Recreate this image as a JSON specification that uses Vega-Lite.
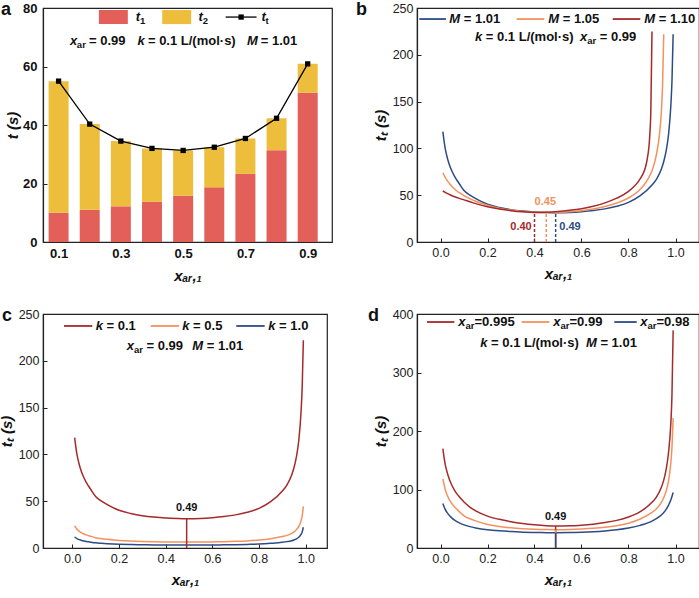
{
  "$schema": "https://vega.github.io/schema/vega-lite/v6.json",
  "padding": {"top": 0, "left": -2, "right": 0, "bottom": 0},
  "config": {
    "font": "Liberation Sans",
    "view": {"stroke": "#222", "strokeWidth": 1.2},
    "axis": {"domainColor": "#222", "domainWidth": 1.2, "tickColor": "#222", "tickWidth": 1, "labelColor": "#222", "labelFont": "Liberation Sans", "labelFontSize": 12.5, "titleFont": "Liberation Sans", "titleFontSize": 15, "titleFontWeight": "bold", "titleColor": "#111", "grid": false, "labelFlush": false, "labelOverlap": false},
    "title": {"anchor": "start", "frame": "group", "baseline": "top", "fontSize": 18, "fontWeight": "bold", "font": "Liberation Sans", "offset": -17, "color": "#111"},
    "text": {"font": "Liberation Sans"}
  },
  "columns": 2,
  "spacing": {"row": 22, "column": 22},
  "resolve": {"scale": {"color": "independent"}},
  "concat": [
    {
      "width": 289, "height": 234,
      "title": {"text": "a", "dx": -42},
      "layer": [
        {
          "data": {"values": [
            {"x": 0.1, "part": "t1", "t": 10.0}, {"x": 0.1, "part": "t2", "t": 45.0},
            {"x": 0.2, "part": "t1", "t": 11.0}, {"x": 0.2, "part": "t2", "t": 29.3},
            {"x": 0.3, "part": "t1", "t": 12.2}, {"x": 0.3, "part": "t2", "t": 22.3},
            {"x": 0.4, "part": "t1", "t": 13.8}, {"x": 0.4, "part": "t2", "t": 18.2},
            {"x": 0.5, "part": "t1", "t": 15.8}, {"x": 0.5, "part": "t2", "t": 15.5},
            {"x": 0.6, "part": "t1", "t": 18.7}, {"x": 0.6, "part": "t2", "t": 13.7},
            {"x": 0.7, "part": "t1", "t": 23.3}, {"x": 0.7, "part": "t2", "t": 12.1},
            {"x": 0.8, "part": "t1", "t": 31.4}, {"x": 0.8, "part": "t2", "t": 10.9},
            {"x": 0.9, "part": "t1", "t": 51.0}, {"x": 0.9, "part": "t2", "t": 9.9}
          ]},
          "mark": {"type": "bar", "size": 20, "orient": "vertical"},
          "encoding": {
            "x": {"field": "x", "type": "quantitative", "scale": {"domain": [0.066, 0.962], "nice": false, "zero": false},
                  "axis": {"values": [0.1, 0.2, 0.3, 0.4, 0.5, 0.6, 0.7, 0.8, 0.9], "format": ".1f", "ticks": false, "labelPadding": 5, "labelFontSize": 13, "labelFontWeight": "bold", "labelColor": "#111", "title": "xₐᵣ,₁", "titleFontStyle": "italic", "titlePadding": 8}},
            "y": {"field": "t", "type": "quantitative", "stack": "zero", "scale": {"domain": [0, 80], "nice": false},
                  "axis": {"values": [0, 10, 20, 30, 40, 50, 60, 70, 80], "labelExpr": "datum.value % 20 === 0 ? datum.label : ''", "tickSize": -4, "labelPadding": 10, "labelFontSize": 13, "labelFontWeight": "bold", "labelColor": "#111", "title": "t (s)", "titleFontStyle": "italic", "titlePadding": 2}},
            "color": {"field": "part", "type": "nominal", "scale": {"domain": ["t1", "t2"], "range": ["#E3605A", "#EDBD3C"]}, "legend": null},
            "order": {"field": "part", "type": "nominal"}
          }
        },
        {
          "data": {"values": [
            {"x": 0.1, "t": 55.0}, {"x": 0.2, "t": 40.3}, {"x": 0.3, "t": 34.5}, {"x": 0.4, "t": 32.0}, {"x": 0.5, "t": 31.3},
            {"x": 0.6, "t": 32.4}, {"x": 0.7, "t": 35.4}, {"x": 0.8, "t": 42.3}, {"x": 0.9, "t": 60.9}
          ]},
          "mark": {"type": "line", "color": "#000", "strokeWidth": 1.3, "point": {"shape": "square", "size": 28, "filled": true, "color": "#000"}},
          "encoding": {"x": {"field": "x", "type": "quantitative"}, "y": {"field": "t", "type": "quantitative"}}
        },
        {
          "data": {"values": [
            {"part": "t1", "x": 0.2294, "x2": 0.3224, "y": 74.5, "y2": 79.3},
            {"part": "t2", "x": 0.4328, "x2": 0.5258, "y": 74.5, "y2": 79.3}
          ]},
          "mark": {"type": "rect"},
          "encoding": {
            "x": {"field": "x", "type": "quantitative"}, "x2": {"field": "x2"},
            "y": {"field": "y", "type": "quantitative"}, "y2": {"field": "y2"},
            "color": {"field": "part", "type": "nominal"}
          }
        },
        {
          "data": {"values": [{"x": 0.6365, "x2": 0.7358, "y": 76.9}]},
          "mark": {"type": "rule", "color": "#000", "strokeWidth": 1.3},
          "encoding": {"x": {"field": "x", "type": "quantitative"}, "x2": {"field": "x2"}, "y": {"field": "y", "type": "quantitative"}}
        },
        {
          "data": {"values": [{"x": 0.6862, "y": 76.9}]},
          "mark": {"type": "point", "shape": "square", "size": 28, "filled": true, "color": "#000", "opacity": 1},
          "encoding": {"x": {"field": "x", "type": "quantitative"}, "y": {"field": "y", "type": "quantitative"}}
        },
        {
          "data": {"values": [
            {"x": 0.3482, "y": 76.9, "text": "t"}, {"x": 0.5497, "y": 76.9, "text": "t"}, {"x": 0.7513, "y": 76.9, "text": "t"},
            {"x": 0.1364, "y": 68.7, "text": "x"}, {"x": 0.3534, "y": 68.7, "text": "k"}, {"x": 0.7048, "y": 68.7, "text": "M"}
          ]},
          "mark": {"type": "text", "align": "left", "baseline": "middle", "fontSize": 13, "fontWeight": "bold", "fontStyle": "italic", "color": "#111"},
          "encoding": {"x": {"field": "x", "type": "quantitative"}, "y": {"field": "y", "type": "quantitative"}, "text": {"field": "text"}}
        },
        {
          "data": {"values": [
            {"x": 0.3615, "y": 76.9, "text": "1"}, {"x": 0.563, "y": 76.9, "text": "2"}, {"x": 0.7646, "y": 76.9, "text": "t"},
            {"x": 0.1587, "y": 68.7, "text": "ar"}
          ]},
          "mark": {"type": "text", "align": "left", "baseline": "middle", "fontSize": 9.5, "fontWeight": "bold", "dy": 4, "color": "#111"},
          "encoding": {"x": {"field": "x", "type": "quantitative"}, "y": {"field": "y", "type": "quantitative"}, "text": {"field": "text"}}
        },
        {
          "data": {"values": [
            {"x": 0.1978, "y": 68.7, "text": "= 0.99"}, {"x": 0.3869, "y": 68.7, "text": "= 0.1 L/(mol·s)"}, {"x": 0.7494, "y": 68.7, "text": "= 1.01"}
          ]},
          "mark": {"type": "text", "align": "left", "baseline": "middle", "fontSize": 13, "fontWeight": "bold", "color": "#111"},
          "encoding": {"x": {"field": "x", "type": "quantitative"}, "y": {"field": "y", "type": "quantitative"}, "text": {"field": "text"}}
        }
      ]
    },
    {
      "width": 282, "height": 234,
      "title": {"text": "b", "dx": -61},
      "layer": [
        {
          "data": {"values": [
            {"s": "1.01", "x": 0.01, "t": 118}, {"s": "1.01", "x": 0.02, "t": 100}, {"s": "1.01", "x": 0.03, "t": 89}, {"s": "1.01", "x": 0.04, "t": 81},
            {"s": "1.01", "x": 0.05, "t": 75}, {"s": "1.01", "x": 0.06, "t": 70}, {"s": "1.01", "x": 0.07, "t": 66}, {"s": "1.01", "x": 0.08, "t": 62.2},
            {"s": "1.01", "x": 0.1, "t": 55}, {"s": "1.01", "x": 0.125, "t": 50}, {"s": "1.01", "x": 0.15, "t": 46.3}, {"s": "1.01", "x": 0.2, "t": 40.3},
            {"s": "1.01", "x": 0.25, "t": 36.9}, {"s": "1.01", "x": 0.3, "t": 34.5}, {"s": "1.01", "x": 0.35, "t": 33}, {"s": "1.01", "x": 0.4, "t": 32},
            {"s": "1.01", "x": 0.45, "t": 31.5}, {"s": "1.01", "x": 0.49, "t": 31.3}, {"s": "1.01", "x": 0.55, "t": 31.6}, {"s": "1.01", "x": 0.6, "t": 32.4},
            {"s": "1.01", "x": 0.65, "t": 33.6}, {"s": "1.01", "x": 0.7, "t": 35.4}, {"s": "1.01", "x": 0.75, "t": 38.2}, {"s": "1.01", "x": 0.8, "t": 42.3},
            {"s": "1.01", "x": 0.85, "t": 49.5}, {"s": "1.01", "x": 0.9, "t": 60.9}, {"s": "1.01", "x": 0.92, "t": 67.5}, {"s": "1.01", "x": 0.94, "t": 78},
            {"s": "1.01", "x": 0.95, "t": 86}, {"s": "1.01", "x": 0.96, "t": 97}, {"s": "1.01", "x": 0.97, "t": 114}, {"s": "1.01", "x": 0.98, "t": 145},
            {"s": "1.01", "x": 0.985, "t": 172}, {"s": "1.01", "x": 0.99, "t": 222},
            {"s": "1.05", "x": 0.01, "t": 74}, {"s": "1.05", "x": 0.02, "t": 69}, {"s": "1.05", "x": 0.03, "t": 65}, {"s": "1.05", "x": 0.04, "t": 62},
            {"s": "1.05", "x": 0.05, "t": 59}, {"s": "1.05", "x": 0.06, "t": 56.6}, {"s": "1.05", "x": 0.07, "t": 54.5}, {"s": "1.05", "x": 0.08, "t": 52.7},
            {"s": "1.05", "x": 0.1, "t": 49.5}, {"s": "1.05", "x": 0.125, "t": 46.3}, {"s": "1.05", "x": 0.15, "t": 43.5}, {"s": "1.05", "x": 0.2, "t": 39.2},
            {"s": "1.05", "x": 0.25, "t": 36.2}, {"s": "1.05", "x": 0.3, "t": 34.1}, {"s": "1.05", "x": 0.35, "t": 32.7}, {"s": "1.05", "x": 0.4, "t": 31.8},
            {"s": "1.05", "x": 0.45, "t": 31.4}, {"s": "1.05", "x": 0.5, "t": 31.6}, {"s": "1.05", "x": 0.55, "t": 32.3}, {"s": "1.05", "x": 0.6, "t": 33.5},
            {"s": "1.05", "x": 0.65, "t": 35.3}, {"s": "1.05", "x": 0.7, "t": 37.9}, {"s": "1.05", "x": 0.75, "t": 41.6}, {"s": "1.05", "x": 0.8, "t": 47},
            {"s": "1.05", "x": 0.84, "t": 54}, {"s": "1.05", "x": 0.86, "t": 59}, {"s": "1.05", "x": 0.88, "t": 66}, {"s": "1.05", "x": 0.9, "t": 76},
            {"s": "1.05", "x": 0.91, "t": 84}, {"s": "1.05", "x": 0.92, "t": 95}, {"s": "1.05", "x": 0.93, "t": 111}, {"s": "1.05", "x": 0.94, "t": 140},
            {"s": "1.05", "x": 0.945, "t": 168}, {"s": "1.05", "x": 0.95, "t": 222},
            {"s": "1.10", "x": 0.01, "t": 54.5}, {"s": "1.10", "x": 0.02, "t": 53}, {"s": "1.10", "x": 0.03, "t": 51.7}, {"s": "1.10", "x": 0.04, "t": 50.5},
            {"s": "1.10", "x": 0.06, "t": 48.4}, {"s": "1.10", "x": 0.08, "t": 46.6}, {"s": "1.10", "x": 0.1, "t": 45}, {"s": "1.10", "x": 0.125, "t": 43},
            {"s": "1.10", "x": 0.15, "t": 41}, {"s": "1.10", "x": 0.2, "t": 37.6}, {"s": "1.10", "x": 0.25, "t": 35.2}, {"s": "1.10", "x": 0.3, "t": 33.4},
            {"s": "1.10", "x": 0.35, "t": 32.2}, {"s": "1.10", "x": 0.4, "t": 31.6}, {"s": "1.10", "x": 0.45, "t": 31.8}, {"s": "1.10", "x": 0.5, "t": 32.5},
            {"s": "1.10", "x": 0.55, "t": 33.8}, {"s": "1.10", "x": 0.6, "t": 35.6}, {"s": "1.10", "x": 0.65, "t": 38.2}, {"s": "1.10", "x": 0.7, "t": 41.8},
            {"s": "1.10", "x": 0.75, "t": 46.8}, {"s": "1.10", "x": 0.8, "t": 54}, {"s": "1.10", "x": 0.82, "t": 58.5}, {"s": "1.10", "x": 0.84, "t": 64},
            {"s": "1.10", "x": 0.86, "t": 72}, {"s": "1.10", "x": 0.87, "t": 78}, {"s": "1.10", "x": 0.88, "t": 89}, {"s": "1.10", "x": 0.89, "t": 112},
            {"s": "1.10", "x": 0.895, "t": 140}, {"s": "1.10", "x": 0.9, "t": 225}
          ]},
          "mark": {"type": "line", "interpolate": "monotone", "strokeWidth": 1.5},
          "encoding": {
            "x": {"field": "x", "type": "quantitative", "scale": {"domain": [-0.1, 1.1], "nice": false, "zero": false},
                  "axis": {"values": [0, 0.1, 0.2, 0.3, 0.4, 0.5, 0.6, 0.7, 0.8, 0.9, 1.0], "format": ".1f", "labelExpr": "indexof(['0.0','0.2','0.4','0.6','0.8','1.0'], datum.label) >= 0 ? datum.label : ''", "tickSize": -4, "labelPadding": 8, "title": "xₐᵣ,₁", "titleFontStyle": "italic", "titlePadding": 8}},
            "y": {"field": "t", "type": "quantitative", "scale": {"domain": [0, 250], "nice": false},
                  "axis": {"values": [0, 25, 50, 75, 100, 125, 150, 175, 200, 225, 250], "labelExpr": "datum.value % 50 === 0 ? datum.label : ''", "tickSize": -4, "labelPadding": 8, "title": "tₜ (s)", "titleFontStyle": "italic", "titlePadding": 4}},
            "color": {"field": "s", "type": "nominal", "scale": {"domain": ["1.01", "1.05", "1.10"], "range": ["#2B4C86", "#F4915E", "#A52A2A"]}, "legend": null}
          }
        },
        {
          "data": {"values": [
            {"s": "1.10", "x": 0.40, "y": 0, "y2": 31.6}, {"s": "1.05", "x": 0.45, "y": 0, "y2": 31.4}, {"s": "1.01", "x": 0.49, "y": 0, "y2": 31.3}
          ]},
          "mark": {"type": "rule", "strokeWidth": 1.5, "strokeDash": [3, 2]},
          "encoding": {"x": {"field": "x", "type": "quantitative"}, "y": {"field": "y", "type": "quantitative"}, "y2": {"field": "y2"}, "color": {"field": "s", "type": "nominal"}}
        },
        {
          "data": {"values": [
            {"s": "1.10", "x": 0.297, "y": 16.4, "text": "0.40"}, {"s": "1.05", "x": 0.4004, "y": 43, "text": "0.45"}, {"s": "1.01", "x": 0.5055, "y": 16.4, "text": "0.49"}
          ]},
          "mark": {"type": "text", "align": "left", "baseline": "middle", "fontSize": 11, "fontWeight": "bold"},
          "encoding": {"x": {"field": "x", "type": "quantitative"}, "y": {"field": "y", "type": "quantitative"}, "text": {"field": "text"}, "color": {"field": "s", "type": "nominal"}}
        },
        {
          "data": {"values": [
            {"s": "1.01", "x": -0.0902, "x2": 0.0234, "y": 238.2}, {"s": "1.05", "x": 0.3243, "x2": 0.4417, "y": 238.2}, {"s": "1.10", "x": 0.7328, "x2": 0.8502, "y": 238.2}
          ]},
          "mark": {"type": "rule", "strokeWidth": 1.8},
          "encoding": {"x": {"field": "x", "type": "quantitative"}, "x2": {"field": "x2"}, "y": {"field": "y", "type": "quantitative"}, "color": {"field": "s", "type": "nominal"}}
        },
        {
          "data": {"values": [
            {"x": 0.0374, "y": 238.2, "text": "M"}, {"x": 0.4587, "y": 238.2, "text": "M"}, {"x": 0.8672, "y": 238.2, "text": "M"},
            {"x": 0.1468, "y": 219.3, "text": "k"}, {"x": 0.5936, "y": 219.3, "text": "x"}
          ]},
          "mark": {"type": "text", "align": "left", "baseline": "middle", "fontSize": 13, "fontWeight": "bold", "fontStyle": "italic", "color": "#111"},
          "encoding": {"x": {"field": "x", "type": "quantitative"}, "y": {"field": "y", "type": "quantitative"}, "text": {"field": "text"}}
        },
        {
          "data": {"values": [{"x": 0.6243, "y": 219.3, "text": "ar"}]},
          "mark": {"type": "text", "align": "left", "baseline": "middle", "fontSize": 9.5, "fontWeight": "bold", "dy": 4, "color": "#111"},
          "encoding": {"x": {"field": "x", "type": "quantitative"}, "y": {"field": "y", "type": "quantitative"}, "text": {"field": "text"}}
        },
        {
          "data": {"values": [
            {"x": 0.0987, "y": 238.2, "text": "= 1.01"}, {"x": 0.52, "y": 238.2, "text": "= 1.05"}, {"x": 0.9285, "y": 238.2, "text": "= 1.10"},
            {"x": 0.1928, "y": 219.3, "text": "= 0.1 L/(mol·s)"}, {"x": 0.6779, "y": 219.3, "text": "= 0.99"}
          ]},
          "mark": {"type": "text", "align": "left", "baseline": "middle", "fontSize": 13, "fontWeight": "bold", "color": "#111"},
          "encoding": {"x": {"field": "x", "type": "quantitative"}, "y": {"field": "y", "type": "quantitative"}, "text": {"field": "text"}}
        }
      ]
    },
    {
      "width": 284, "height": 234,
      "title": {"text": "c", "dx": -41},
      "layer": [
        {
          "data": {"values": [
            {"s": "0.1", "x": 0.01, "t": 118}, {"s": "0.1", "x": 0.02, "t": 100}, {"s": "0.1", "x": 0.03, "t": 89}, {"s": "0.1", "x": 0.04, "t": 81},
            {"s": "0.1", "x": 0.05, "t": 75}, {"s": "0.1", "x": 0.06, "t": 70}, {"s": "0.1", "x": 0.07, "t": 66}, {"s": "0.1", "x": 0.08, "t": 62.2},
            {"s": "0.1", "x": 0.1, "t": 55}, {"s": "0.1", "x": 0.125, "t": 50}, {"s": "0.1", "x": 0.15, "t": 46.3}, {"s": "0.1", "x": 0.2, "t": 40.3},
            {"s": "0.1", "x": 0.25, "t": 36.9}, {"s": "0.1", "x": 0.3, "t": 34.5}, {"s": "0.1", "x": 0.35, "t": 33}, {"s": "0.1", "x": 0.4, "t": 32},
            {"s": "0.1", "x": 0.45, "t": 31.5}, {"s": "0.1", "x": 0.49, "t": 31.3}, {"s": "0.1", "x": 0.55, "t": 31.6}, {"s": "0.1", "x": 0.6, "t": 32.4},
            {"s": "0.1", "x": 0.65, "t": 33.6}, {"s": "0.1", "x": 0.7, "t": 35.4}, {"s": "0.1", "x": 0.75, "t": 38.2}, {"s": "0.1", "x": 0.8, "t": 42.3},
            {"s": "0.1", "x": 0.85, "t": 49.5}, {"s": "0.1", "x": 0.9, "t": 60.9}, {"s": "0.1", "x": 0.92, "t": 67.5}, {"s": "0.1", "x": 0.94, "t": 78},
            {"s": "0.1", "x": 0.95, "t": 86}, {"s": "0.1", "x": 0.96, "t": 97}, {"s": "0.1", "x": 0.97, "t": 114}, {"s": "0.1", "x": 0.98, "t": 145},
            {"s": "0.1", "x": 0.985, "t": 172}, {"s": "0.1", "x": 0.99, "t": 222},
            {"s": "0.5", "x": 0.01, "t": 23.6}, {"s": "0.5", "x": 0.02, "t": 20}, {"s": "0.5", "x": 0.03, "t": 17.8}, {"s": "0.5", "x": 0.04, "t": 16.2},
            {"s": "0.5", "x": 0.05, "t": 15}, {"s": "0.5", "x": 0.06, "t": 14}, {"s": "0.5", "x": 0.07, "t": 13.2}, {"s": "0.5", "x": 0.08, "t": 12.4},
            {"s": "0.5", "x": 0.1, "t": 11}, {"s": "0.5", "x": 0.125, "t": 10}, {"s": "0.5", "x": 0.15, "t": 9.3}, {"s": "0.5", "x": 0.2, "t": 8.1},
            {"s": "0.5", "x": 0.25, "t": 7.4}, {"s": "0.5", "x": 0.3, "t": 6.9}, {"s": "0.5", "x": 0.35, "t": 6.6}, {"s": "0.5", "x": 0.4, "t": 6.4},
            {"s": "0.5", "x": 0.45, "t": 6.3}, {"s": "0.5", "x": 0.49, "t": 6.3}, {"s": "0.5", "x": 0.55, "t": 6.3}, {"s": "0.5", "x": 0.6, "t": 6.5},
            {"s": "0.5", "x": 0.65, "t": 6.7}, {"s": "0.5", "x": 0.7, "t": 7.1}, {"s": "0.5", "x": 0.75, "t": 7.6}, {"s": "0.5", "x": 0.8, "t": 8.5},
            {"s": "0.5", "x": 0.85, "t": 9.9}, {"s": "0.5", "x": 0.9, "t": 12.2}, {"s": "0.5", "x": 0.92, "t": 13.5}, {"s": "0.5", "x": 0.94, "t": 15.6},
            {"s": "0.5", "x": 0.95, "t": 17.2}, {"s": "0.5", "x": 0.96, "t": 19.4}, {"s": "0.5", "x": 0.97, "t": 22.8}, {"s": "0.5", "x": 0.98, "t": 29},
            {"s": "0.5", "x": 0.985, "t": 34.4}, {"s": "0.5", "x": 0.99, "t": 44.4},
            {"s": "1.0", "x": 0.01, "t": 11.8}, {"s": "1.0", "x": 0.02, "t": 10}, {"s": "1.0", "x": 0.03, "t": 8.9}, {"s": "1.0", "x": 0.04, "t": 8.1},
            {"s": "1.0", "x": 0.05, "t": 7.5}, {"s": "1.0", "x": 0.06, "t": 7}, {"s": "1.0", "x": 0.07, "t": 6.6}, {"s": "1.0", "x": 0.08, "t": 6.2},
            {"s": "1.0", "x": 0.1, "t": 5.5}, {"s": "1.0", "x": 0.125, "t": 5}, {"s": "1.0", "x": 0.15, "t": 4.6}, {"s": "1.0", "x": 0.2, "t": 4},
            {"s": "1.0", "x": 0.25, "t": 3.7}, {"s": "1.0", "x": 0.3, "t": 3.5}, {"s": "1.0", "x": 0.35, "t": 3.3}, {"s": "1.0", "x": 0.4, "t": 3.2},
            {"s": "1.0", "x": 0.45, "t": 3.2}, {"s": "1.0", "x": 0.49, "t": 3.1}, {"s": "1.0", "x": 0.55, "t": 3.2}, {"s": "1.0", "x": 0.6, "t": 3.2},
            {"s": "1.0", "x": 0.65, "t": 3.4}, {"s": "1.0", "x": 0.7, "t": 3.5}, {"s": "1.0", "x": 0.75, "t": 3.8}, {"s": "1.0", "x": 0.8, "t": 4.2},
            {"s": "1.0", "x": 0.85, "t": 5}, {"s": "1.0", "x": 0.9, "t": 6.1}, {"s": "1.0", "x": 0.92, "t": 6.8}, {"s": "1.0", "x": 0.94, "t": 7.8},
            {"s": "1.0", "x": 0.95, "t": 8.6}, {"s": "1.0", "x": 0.96, "t": 9.7}, {"s": "1.0", "x": 0.97, "t": 11.4}, {"s": "1.0", "x": 0.98, "t": 14.5},
            {"s": "1.0", "x": 0.985, "t": 17.2}, {"s": "1.0", "x": 0.99, "t": 22.2}
          ]},
          "mark": {"type": "line", "interpolate": "monotone", "strokeWidth": 1.5},
          "encoding": {
            "x": {"field": "x", "type": "quantitative", "scale": {"domain": [-0.1255, 1.0913], "nice": false, "zero": false},
                  "axis": {"values": [0, 0.1, 0.2, 0.3, 0.4, 0.5, 0.6, 0.7, 0.8, 0.9, 1.0], "format": ".1f", "labelExpr": "indexof(['0.0','0.2','0.4','0.6','0.8','1.0'], datum.label) >= 0 ? datum.label : ''", "tickSize": -4, "labelPadding": 8, "title": "xₐᵣ,₁", "titleFontStyle": "italic", "titlePadding": 8}},
            "y": {"field": "t", "type": "quantitative", "scale": {"domain": [0, 250], "nice": false},
                  "axis": {"values": [0, 25, 50, 75, 100, 125, 150, 175, 200, 225, 250], "labelExpr": "datum.value % 50 === 0 ? datum.label : ''", "tickSize": -4, "labelPadding": 8, "title": "tₜ (s)", "titleFontStyle": "italic", "titlePadding": 4}},
            "color": {"field": "s", "type": "nominal", "scale": {"domain": ["0.1", "0.5", "1.0"], "range": ["#A52A2A", "#F4915E", "#2B4C86"]}, "legend": null}
          }
        },
        {
          "data": {"values": [{"s": "0.1", "x": 0.49, "y": 0, "y2": 31.3}]},
          "mark": {"type": "rule", "strokeWidth": 1.5},
          "encoding": {"x": {"field": "x", "type": "quantitative"}, "y": {"field": "y", "type": "quantitative"}, "y2": {"field": "y2"}, "color": {"field": "s", "type": "nominal"}}
        },
        {
          "data": {"values": [{"x": 0.49, "y": 42.5, "text": "0.49"}]},
          "mark": {"type": "text", "align": "center", "baseline": "middle", "fontSize": 11, "fontWeight": "bold", "color": "#111"},
          "encoding": {"x": {"field": "x", "type": "quantitative"}, "y": {"field": "y", "type": "quantitative"}, "text": {"field": "text"}}
        },
        {
          "data": {"values": [
            {"s": "0.1", "x": -0.0355, "x2": 0.0857, "y": 237.2}, {"s": "0.5", "x": 0.336, "x2": 0.4572, "y": 237.2}, {"s": "1.0", "x": 0.7027, "x2": 0.8244, "y": 237.2}
          ]},
          "mark": {"type": "rule", "strokeWidth": 1.8},
          "encoding": {"x": {"field": "x", "type": "quantitative"}, "x2": {"field": "x2"}, "y": {"field": "y", "type": "quantitative"}, "color": {"field": "s", "type": "nominal"}}
        },
        {
          "data": {"values": [
            {"x": 0.1003, "y": 237.2, "text": "k"}, {"x": 0.4713, "y": 237.2, "text": "k"}, {"x": 0.8398, "y": 237.2, "text": "k"},
            {"x": 0.2331, "y": 215.8, "text": "x"}, {"x": 0.5142, "y": 215.8, "text": "M"}
          ]},
          "mark": {"type": "text", "align": "left", "baseline": "middle", "fontSize": 13, "fontWeight": "bold", "fontStyle": "italic", "color": "#111"},
          "encoding": {"x": {"field": "x", "type": "quantitative"}, "y": {"field": "y", "type": "quantitative"}, "text": {"field": "text"}}
        },
        {
          "data": {"values": [{"x": 0.264, "y": 215.8, "text": "ar"}]},
          "mark": {"type": "text", "align": "left", "baseline": "middle", "fontSize": 9.5, "fontWeight": "bold", "dy": 4, "color": "#111"},
          "encoding": {"x": {"field": "x", "type": "quantitative"}, "y": {"field": "y", "type": "quantitative"}, "text": {"field": "text"}}
        },
        {
          "data": {"values": [
            {"x": 0.1466, "y": 237.2, "text": "= 0.1"}, {"x": 0.5176, "y": 237.2, "text": "= 0.5"}, {"x": 0.8861, "y": 237.2, "text": "= 1.0"},
            {"x": 0.318, "y": 215.8, "text": "= 0.99"}, {"x": 0.5759, "y": 215.8, "text": "= 1.01"}
          ]},
          "mark": {"type": "text", "align": "left", "baseline": "middle", "fontSize": 13, "fontWeight": "bold", "color": "#111"},
          "encoding": {"x": {"field": "x", "type": "quantitative"}, "y": {"field": "y", "type": "quantitative"}, "text": {"field": "text"}}
        }
      ]
    },
    {
      "width": 282, "height": 234,
      "title": {"text": "d", "dx": -49},
      "layer": [
        {
          "data": {"values": [
            {"s": "0.995", "x": 0.01, "t": 170}, {"s": "0.995", "x": 0.02, "t": 143}, {"s": "0.995", "x": 0.03, "t": 127}, {"s": "0.995", "x": 0.04, "t": 115},
            {"s": "0.995", "x": 0.05, "t": 106}, {"s": "0.995", "x": 0.06, "t": 98.5}, {"s": "0.995", "x": 0.07, "t": 92.5}, {"s": "0.995", "x": 0.08, "t": 87.5},
            {"s": "0.995", "x": 0.1, "t": 78.5}, {"s": "0.995", "x": 0.125, "t": 70}, {"s": "0.995", "x": 0.15, "t": 63.5}, {"s": "0.995", "x": 0.2, "t": 54.5},
            {"s": "0.995", "x": 0.25, "t": 49}, {"s": "0.995", "x": 0.3, "t": 45}, {"s": "0.995", "x": 0.35, "t": 42}, {"s": "0.995", "x": 0.4, "t": 39.8},
            {"s": "0.995", "x": 0.45, "t": 38.2}, {"s": "0.995", "x": 0.49, "t": 37.6}, {"s": "0.995", "x": 0.55, "t": 37.9}, {"s": "0.995", "x": 0.6, "t": 39},
            {"s": "0.995", "x": 0.65, "t": 40.8}, {"s": "0.995", "x": 0.7, "t": 43.4}, {"s": "0.995", "x": 0.75, "t": 47.2}, {"s": "0.995", "x": 0.8, "t": 53},
            {"s": "0.995", "x": 0.85, "t": 62}, {"s": "0.995", "x": 0.9, "t": 78}, {"s": "0.995", "x": 0.92, "t": 88}, {"s": "0.995", "x": 0.94, "t": 104},
            {"s": "0.995", "x": 0.95, "t": 116}, {"s": "0.995", "x": 0.96, "t": 134}, {"s": "0.995", "x": 0.97, "t": 162}, {"s": "0.995", "x": 0.98, "t": 212},
            {"s": "0.995", "x": 0.985, "t": 262}, {"s": "0.995", "x": 0.99, "t": 372},
            {"s": "0.99", "x": 0.01, "t": 118}, {"s": "0.99", "x": 0.02, "t": 100}, {"s": "0.99", "x": 0.03, "t": 89}, {"s": "0.99", "x": 0.04, "t": 81},
            {"s": "0.99", "x": 0.05, "t": 75}, {"s": "0.99", "x": 0.06, "t": 70}, {"s": "0.99", "x": 0.07, "t": 66}, {"s": "0.99", "x": 0.08, "t": 62.2},
            {"s": "0.99", "x": 0.1, "t": 55}, {"s": "0.99", "x": 0.125, "t": 50}, {"s": "0.99", "x": 0.15, "t": 46.3}, {"s": "0.99", "x": 0.2, "t": 40.3},
            {"s": "0.99", "x": 0.25, "t": 36.9}, {"s": "0.99", "x": 0.3, "t": 34.5}, {"s": "0.99", "x": 0.35, "t": 33}, {"s": "0.99", "x": 0.4, "t": 32},
            {"s": "0.99", "x": 0.45, "t": 31.5}, {"s": "0.99", "x": 0.49, "t": 31.3}, {"s": "0.99", "x": 0.55, "t": 31.6}, {"s": "0.99", "x": 0.6, "t": 32.4},
            {"s": "0.99", "x": 0.65, "t": 33.6}, {"s": "0.99", "x": 0.7, "t": 35.4}, {"s": "0.99", "x": 0.75, "t": 38.2}, {"s": "0.99", "x": 0.8, "t": 42.3},
            {"s": "0.99", "x": 0.85, "t": 49.5}, {"s": "0.99", "x": 0.9, "t": 60.9}, {"s": "0.99", "x": 0.92, "t": 67.5}, {"s": "0.99", "x": 0.94, "t": 78},
            {"s": "0.99", "x": 0.95, "t": 86}, {"s": "0.99", "x": 0.96, "t": 97}, {"s": "0.99", "x": 0.97, "t": 114}, {"s": "0.99", "x": 0.98, "t": 145},
            {"s": "0.99", "x": 0.985, "t": 172}, {"s": "0.99", "x": 0.99, "t": 222},
            {"s": "0.98", "x": 0.01, "t": 76}, {"s": "0.98", "x": 0.02, "t": 66}, {"s": "0.98", "x": 0.03, "t": 59.5}, {"s": "0.98", "x": 0.04, "t": 54.5},
            {"s": "0.98", "x": 0.05, "t": 50.6}, {"s": "0.98", "x": 0.06, "t": 47.5}, {"s": "0.98", "x": 0.07, "t": 45}, {"s": "0.98", "x": 0.08, "t": 43},
            {"s": "0.98", "x": 0.1, "t": 39.5}, {"s": "0.98", "x": 0.125, "t": 36.5}, {"s": "0.98", "x": 0.15, "t": 34.3}, {"s": "0.98", "x": 0.2, "t": 31.2},
            {"s": "0.98", "x": 0.25, "t": 29.3}, {"s": "0.98", "x": 0.3, "t": 28}, {"s": "0.98", "x": 0.35, "t": 27.1}, {"s": "0.98", "x": 0.4, "t": 26.5},
            {"s": "0.98", "x": 0.45, "t": 26.2}, {"s": "0.98", "x": 0.49, "t": 26.1}, {"s": "0.98", "x": 0.55, "t": 26.3}, {"s": "0.98", "x": 0.6, "t": 26.9},
            {"s": "0.98", "x": 0.65, "t": 27.8}, {"s": "0.98", "x": 0.7, "t": 29.2}, {"s": "0.98", "x": 0.75, "t": 31.2}, {"s": "0.98", "x": 0.8, "t": 34.2},
            {"s": "0.98", "x": 0.85, "t": 38.7}, {"s": "0.98", "x": 0.9, "t": 46}, {"s": "0.98", "x": 0.92, "t": 50.5}, {"s": "0.98", "x": 0.94, "t": 56.5},
            {"s": "0.98", "x": 0.95, "t": 60.5}, {"s": "0.98", "x": 0.96, "t": 66}, {"s": "0.98", "x": 0.97, "t": 73}, {"s": "0.98", "x": 0.98, "t": 82},
            {"s": "0.98", "x": 0.985, "t": 88}, {"s": "0.98", "x": 0.99, "t": 95}
          ]},
          "mark": {"type": "line", "interpolate": "monotone", "strokeWidth": 1.5},
          "encoding": {
            "x": {"field": "x", "type": "quantitative", "scale": {"domain": [-0.1, 1.1], "nice": false, "zero": false},
                  "axis": {"values": [0, 0.1, 0.2, 0.3, 0.4, 0.5, 0.6, 0.7, 0.8, 0.9, 1.0], "format": ".1f", "labelExpr": "indexof(['0.0','0.2','0.4','0.6','0.8','1.0'], datum.label) >= 0 ? datum.label : ''", "tickSize": -4, "labelPadding": 8, "title": "xₐᵣ,₁", "titleFontStyle": "italic", "titlePadding": 8}},
            "y": {"field": "t", "type": "quantitative", "scale": {"domain": [0, 400], "nice": false},
                  "axis": {"values": [0, 25, 50, 75, 100, 125, 150, 175, 200, 225, 250, 275, 300, 325, 350, 375, 400], "labelExpr": "datum.value % 50 === 0 ? datum.label : ''", "tickSize": -4, "labelPadding": 8, "title": "tₜ (s)", "titleFontStyle": "italic", "titlePadding": 4}},
            "color": {"field": "s", "type": "nominal", "scale": {"domain": ["0.995", "0.99", "0.98"], "range": ["#A52A2A", "#F4915E", "#2B4C86"]}, "legend": null}
          }
        },
        {
          "data": {"values": [
            {"s": "0.995", "x": 0.49, "y": 0, "y2": 37.6}, {"s": "0.99", "x": 0.49, "y": 0, "y2": 31.3}, {"s": "0.98", "x": 0.49, "y": 0, "y2": 26.1}
          ]},
          "mark": {"type": "rule", "strokeWidth": 1.5},
          "encoding": {"x": {"field": "x", "type": "quantitative"}, "y": {"field": "y", "type": "quantitative"}, "y2": {"field": "y2"}, "color": {"field": "s", "type": "nominal"}}
        },
        {
          "data": {"values": [{"x": 0.49, "y": 53, "text": "0.49"}]},
          "mark": {"type": "text", "align": "center", "baseline": "middle", "fontSize": 11, "fontWeight": "bold", "color": "#111"},
          "encoding": {"x": {"field": "x", "type": "quantitative"}, "y": {"field": "y", "type": "quantitative"}, "text": {"field": "text"}}
        },
        {
          "data": {"values": [
            {"s": "0.995", "x": -0.0574, "x2": 0.0588, "y": 386.3}, {"s": "0.99", "x": 0.3455, "x2": 0.463, "y": 386.3}, {"s": "0.98", "x": 0.7396, "x2": 0.8349, "y": 386.3}
          ]},
          "mark": {"type": "rule", "strokeWidth": 1.8},
          "encoding": {"x": {"field": "x", "type": "quantitative"}, "x2": {"field": "x2"}, "y": {"field": "y", "type": "quantitative"}, "color": {"field": "s", "type": "nominal"}}
        },
        {
          "data": {"values": [
            {"x": 0.0757, "y": 386.3, "text": "x"}, {"x": 0.48, "y": 386.3, "text": "x"}, {"x": 0.8502, "y": 386.3, "text": "x"},
            {"x": 0.1695, "y": 351, "text": "k"}, {"x": 0.6191, "y": 351, "text": "M"}
          ]},
          "mark": {"type": "text", "align": "left", "baseline": "middle", "fontSize": 13, "fontWeight": "bold", "fontStyle": "italic", "color": "#111"},
          "encoding": {"x": {"field": "x", "type": "quantitative"}, "y": {"field": "y", "type": "quantitative"}, "text": {"field": "text"}}
        },
        {
          "data": {"values": [
            {"x": 0.1064, "y": 386.3, "text": "ar"}, {"x": 0.5106, "y": 386.3, "text": "ar"}, {"x": 0.8809, "y": 386.3, "text": "ar"}
          ]},
          "mark": {"type": "text", "align": "left", "baseline": "middle", "fontSize": 9.5, "fontWeight": "bold", "dy": 4, "color": "#111"},
          "encoding": {"x": {"field": "x", "type": "quantitative"}, "y": {"field": "y", "type": "quantitative"}, "text": {"field": "text"}}
        },
        {
          "data": {"values": [
            {"x": 0.1447, "y": 386.3, "text": "=0.995"}, {"x": 0.5489, "y": 386.3, "text": "=0.99"}, {"x": 0.9191, "y": 386.3, "text": "=0.98"},
            {"x": 0.2153, "y": 351, "text": "= 0.1 L/(mol·s)"}, {"x": 0.6804, "y": 351, "text": "= 1.01"}
          ]},
          "mark": {"type": "text", "align": "left", "baseline": "middle", "fontSize": 13, "fontWeight": "bold", "color": "#111"},
          "encoding": {"x": {"field": "x", "type": "quantitative"}, "y": {"field": "y", "type": "quantitative"}, "text": {"field": "text"}}
        }
      ]
    }
  ]
}
